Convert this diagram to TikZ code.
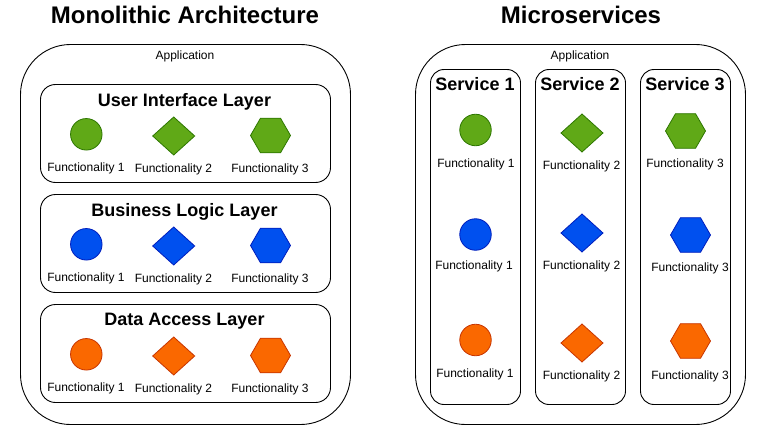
\documentclass[tikz,border=0pt]{standalone}
\usepackage{fontspec}
\setmainfont{Liberation Sans}
\usetikzlibrary{shapes.geometric}
\definecolor{greenfill}{HTML}{60A917}
\definecolor{greenline}{HTML}{2D7600}
\definecolor{bluefill}{HTML}{0050EF}
\definecolor{blueline}{HTML}{001DBC}
\definecolor{orangefill}{HTML}{FA6800}
\definecolor{orangeline}{HTML}{C73500}
\tikzstyle{appbox}=[
        draw=black,
        rounded corners=50pt
]
\tikzstyle{layerbox}=[
        draw=black,
        rounded corners=15pt
]
\tikzstyle{servicebox}=[
        draw=black,
        rounded corners=13.5pt
]
\tikzstyle{heading}=[
        font=\fontsize{24}{28}\selectfont\bfseries
]
\tikzstyle{subheading}=[
        font=\fontsize{18}{22}\selectfont\bfseries
]
\tikzstyle{caption}=[
        font=\fontsize{12}{14}\selectfont
]
\tikzstyle{circ}=[
        circle, draw=#1line, fill=#1fill, line width=0.8pt, inner sep=0pt, outer sep=0pt, minimum size=31.5pt
]
\tikzstyle{diam}=[
        diamond, draw=#1line, fill=#1fill, line width=0.8pt, inner sep=0pt, outer sep=0pt, minimum width=42pt, minimum height=38pt
]
\tikzstyle{hexa}=[
        regular polygon, regular polygon sides=6, draw=#1line, fill=#1fill, line width=0.8pt, inner sep=0pt, outer sep=0pt, minimum size=40pt
]

\begin{document}
\begin{tikzpicture}[x=1pt,y=-1pt,line width=0.9pt]
                        \useasboundingbox (0,0) rectangle (768,425);

                        \node[heading] (monotitle) at (185,15) {Monolithic Architecture};
                        \node[heading] (microtitle) at (581,15) {Microservices};

                        % monolith
                        \draw[appbox] (20.5,44.5) rectangle (350.5,424.5);
                        \node[caption] (monoapp) at (185,56) {Application};

                        \draw[layerbox] (40.5,84.5) rectangle (330.5,182.5);
                        \draw[layerbox] (40.5,194.5) rectangle (330.5,292.5);
                        \draw[layerbox] (40.5,304.5) rectangle (330.5,402.5);
                        \node[subheading] (uilayer) at (184.5,101.5) {User Interface Layer};
                        \node[subheading] (bizlayer) at (184.5,211.5) {Business Logic Layer};
                        \node[subheading] (datalayer) at (184.5,321.5) {Data Access Layer};

                        \foreach \y/\col in {0/green,110/blue,220/orange} {
                            \node[circ=\col] (monoc\col) at (86.3,134.3+\y) {};
                            \node[diam=\col] (monod\col) at (173.7,136+\y) {};
                            \node[hexa=\col] (monoh\col) at (270.5,135.5+\y) {};
                            \node[caption] (monolc\col) at (86,168+\y) {Functionality 1};
                            \node[caption] (monold\col) at (173.5,169+\y) {Functionality 2};
                            \node[caption] (monolh\col) at (270,169+\y) {Functionality 3};
                        }

                        % microservices
                        \draw[appbox] (415.5,44.5) rectangle (745.5,424.5);
                        \node[caption] (microapp) at (580,56) {Application};

                        \draw[servicebox] (430.5,69.5) rectangle (520.5,404.5);
                        \draw[servicebox] (535.5,69.5) rectangle (625.5,404.5);
                        \draw[servicebox] (640.5,69.5) rectangle (730.5,404.5);
                        \node[subheading] (serviceone) at (475,84.5) {Service 1};
                        \node[subheading] (servicetwo) at (580,84.5) {Service 2};
                        \node[subheading] (servicethree) at (685,84.5) {Service 3};

                        \node[circ=green] (svcagreen) at (475.5,130) {};
                        \node[circ=blue] (svcablue) at (475.5,234.5) {};
                        \node[circ=orange] (svcaorange) at (475.5,340) {};
                        \node[caption] (svcalgreen) at (476,164) {Functionality 1};
                        \node[caption] (svcalblue) at (474,266) {Functionality 1};
                        \node[caption] (svcalorange) at (475,374) {Functionality 1};

                        \node[diam=green] (svcbgreen) at (582,133) {};
                        \node[diam=blue] (svcbblue) at (582,233) {};
                        \node[diam=orange] (svcborange) at (582,343) {};
                        \node[caption] (svcblgreen) at (581.5,166) {Functionality 2};
                        \node[caption] (svcblblue) at (581.5,266) {Functionality 2};
                        \node[caption] (svcblorange) at (581.5,376) {Functionality 2};

                        \node[hexa=green] (svccgreen) at (685.5,131) {};
                        \node[hexa=blue] (svccblue) at (690.5,235) {};
                        \node[hexa=orange] (svccorange) at (690.5,341) {};
                        \node[caption] (svcclgreen) at (685,164) {Functionality 3};
                        \node[caption] (svcclblue) at (690,268) {Functionality 3};
                        \node[caption] (svcclorange) at (690,376) {Functionality 3};

                    \end{tikzpicture}
\end{document}
